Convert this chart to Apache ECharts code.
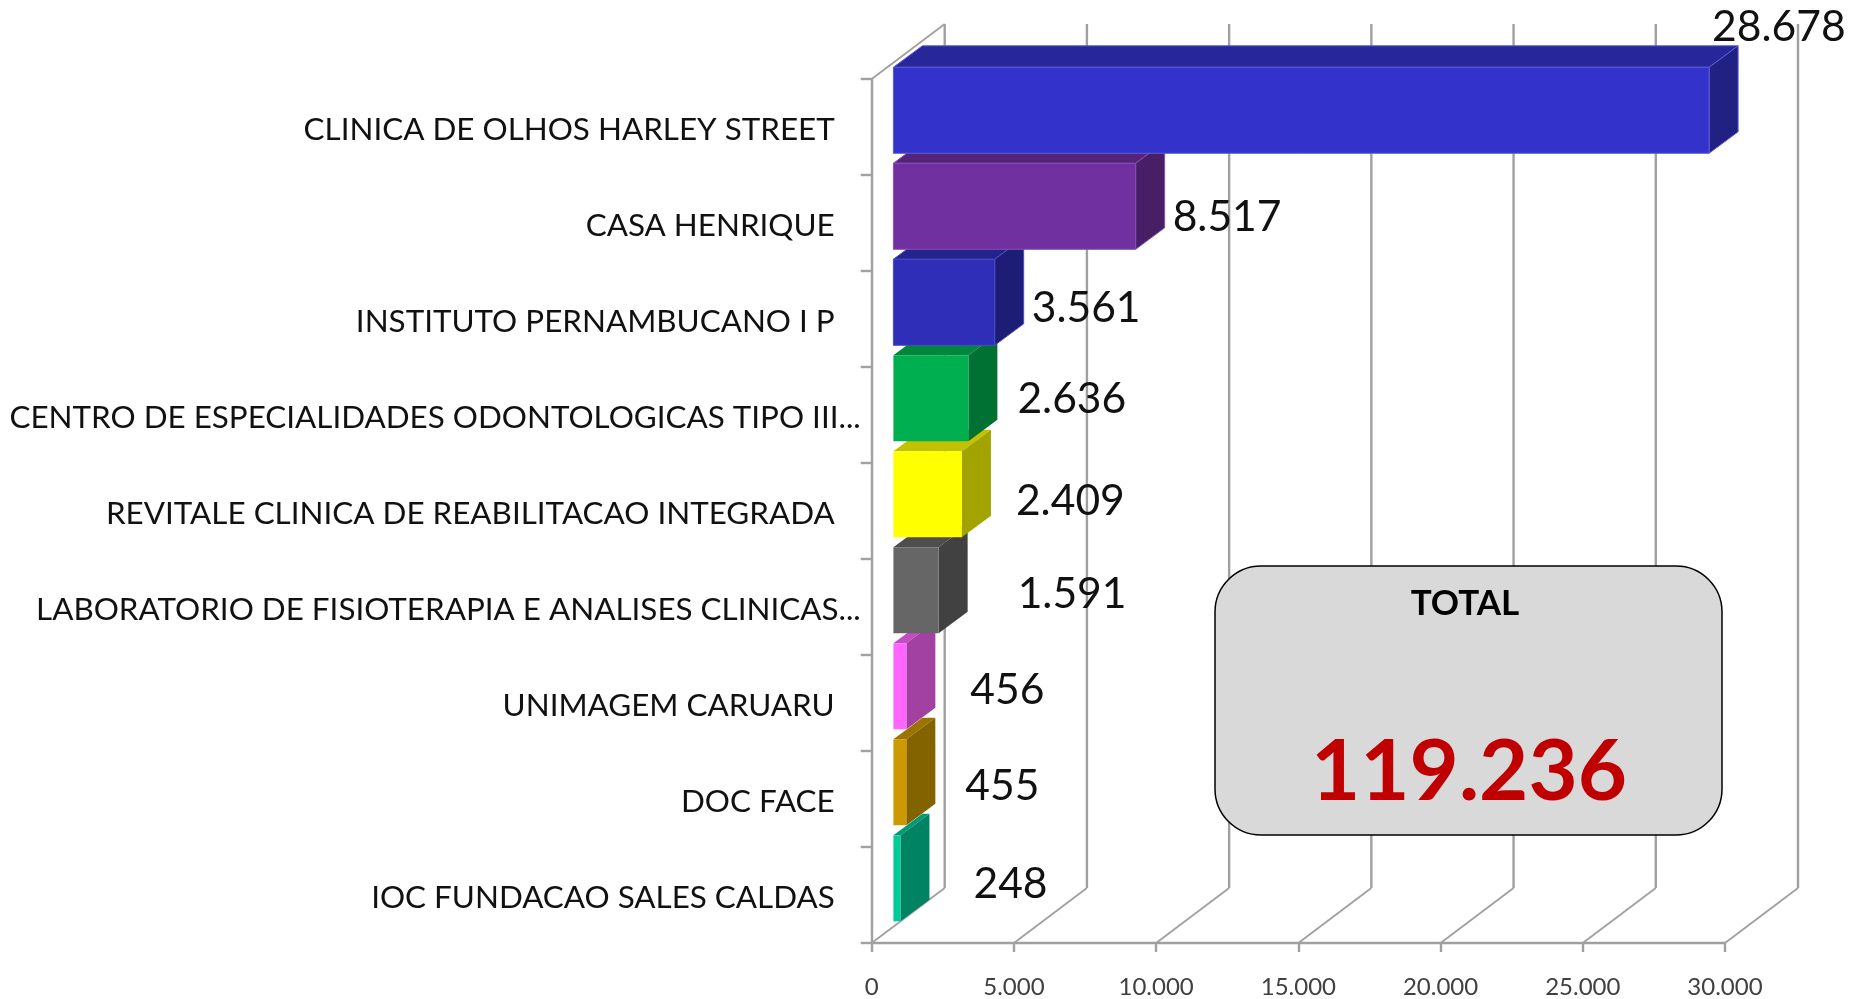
<!DOCTYPE html>
<html>
<head>
<meta charset="utf-8">
<style>html,body{margin:0;padding:0;background:#fff}#c{width:1850px;height:999px}</style>
<script src="https://cdn.jsdelivr.net/npm/echarts@6/dist/echarts.min.js"></script>
</head>
<body>
<div id="c"></div>
<script>
const categories = [
  'CLINICA DE OLHOS HARLEY STREET',
  'CASA HENRIQUE',
  'INSTITUTO PERNAMBUCANO I P',
  'CENTRO DE ESPECIALIDADES ODONTOLOGICAS TIPO III...',
  'REVITALE CLINICA DE REABILITACAO INTEGRADA',
  'LABORATORIO DE FISIOTERAPIA E ANALISES CLINICAS...',
  'UNIMAGEM CARUARU',
  'DOC FACE',
  'IOC FUNDACAO SALES CALDAS'
];
const values = [28678, 8517, 3561, 2636, 2409, 1591, 456, 455, 248];
const frontColors = ['#3333CC','#7030A0','#2E2EB8','#00B050','#FFFF00','#666666','#FF66FF','#CC9900','#00CC99'];
const edgeColors = ['#5B5BD6','#8450AE','#4A4AC4',null,null,null,null,null,null];
const labelShiftX = [-26, 8, 8, 20, 25, 50, 35, 30, 44];
const labelShiftY = [-83, 11, 6, 1, 7, 4, 4, 4, 6];
const valueTicks = [0, 5000, 10000, 15000, 20000, 25000, 30000];
const totalLabel = 'TOTAL';
const totalValue = '119.236';

const GRAY = '#A0A0A0';
const FONT = 'Lato';
const WALL_DX = 73, WALL_DY = -55;      // depth of the 3D box
const BAR_DX = 21.7, BAR_DY = -16.7;    // bars float inside the box
const SIDE_DX = 29, SIDE_DY = -21.5;    // thickness of a bar
const BAR_H = 86;
const TOP_SHADE = 0.76, SIDE_SHADE = 0.64;
const fmt = v => String(v).replace(/\B(?=(\d{3})+$)/g, '.');
const shade = (hex, k) => '#' + [1, 3, 5].map(p =>
  Math.round(parseInt(hex.substr(p, 2), 16) * k).toString(16).padStart(2, '0')).join('');

function renderWalls(params, api) {
  const v = api.value(0);
  const n = categories.length;
  const half = api.size([0, 1])[1] / 2;
  const front = api.coord([v, n - 1]);
  const top0 = api.coord([0, 0]);
  const bottom = front[1] + half;
  const top = top0[1] - half;
  const bx = front[0] + WALL_DX;
  const children = [
    { type: 'line',
      shape: { x1: front[0], y1: bottom, x2: bx, y2: bottom + WALL_DY },
      style: { stroke: GRAY, lineWidth: 1.8 } },
    { type: 'line',
      shape: { x1: bx, y1: bottom + WALL_DY, x2: bx, y2: top + WALL_DY },
      style: { stroke: GRAY, lineWidth: 2.4 } }
  ];
  if (v === 0) {
    children.push({
      type: 'line',
      shape: { x1: front[0], y1: top, x2: bx, y2: top + WALL_DY },
      style: { stroke: GRAY, lineWidth: 1.8 }
    });
  }
  return { type: 'group', children };
}

function renderBar(params, api) {
  const i = params.dataIndex;
  const base = api.coord([0, i]);
  const end = api.coord([api.value(0), i]);
  const x0 = base[0] + BAR_DX;
  const x1 = x0 + (end[0] - base[0]);
  const yc = end[1] + BAR_DY;
  const y0 = yc - BAR_H / 2, y1 = yc + BAR_H / 2;
  const c = frontColors[i];
  const z = (categories.length - i) * 2;
  const edge = edgeColors[i] ? { stroke: edgeColors[i], lineWidth: 1 } : {};
  return {
    type: 'group',
    children: [
      { type: 'polygon', z2: z,
        shape: { points: [[x0, y0], [x1, y0], [x1 + SIDE_DX, y0 + SIDE_DY], [x0 + SIDE_DX, y0 + SIDE_DY]] },
        style: { fill: shade(c, TOP_SHADE), ...edge } },
      { type: 'polygon', z2: z,
        shape: { points: [[x1, y0], [x1 + SIDE_DX, y0 + SIDE_DY], [x1 + SIDE_DX, y1 + SIDE_DY], [x1, y1]] },
        style: { fill: shade(c, SIDE_SHADE), ...edge } },
      { type: 'rect', z2: z + 1,
        shape: { x: x0, y: y0, width: x1 - x0, height: BAR_H },
        style: { fill: c, ...edge } },
      { type: 'text', z2: 100,
        x: x1 + SIDE_DX + labelShiftX[i],
        y: yc + labelShiftY[i],
        style: { text: fmt(api.value(0)), fontFamily: FONT, fontSize: 42.6, fill: '#111',
                 align: 'left', verticalAlign: 'middle' } }
    ]
  };
}

const chart = echarts.init(document.getElementById('c'));
chart.setOption({
  animation: false,
  backgroundColor: '#fff',
  grid: { left: 871.7, top: 79, right: 125, bottom: 56, containLabel: false },
  xAxis: {
    type: 'value', min: 0, max: 30000, interval: 5000,
    axisLine: { show: true, lineStyle: { color: GRAY, width: 2.4 } },
    axisTick: { show: true, length: 9, lineStyle: { color: GRAY, width: 2.4 } },
    splitLine: { show: false },
    axisLabel: { formatter: fmt, fontFamily: FONT, fontSize: 24, color: '#404040', margin: 32 }
  },
  yAxis: {
    type: 'category', inverse: true, data: categories,
    axisLine: { show: true, lineStyle: { color: GRAY, width: 2.4 } },
    axisTick: { show: true, length: 11, lineStyle: { color: GRAY, width: 2.4 } },
    axisLabel: {
      interval: 0, margin: 11, color: '#111',
      formatter: t => t.endsWith('...') ? '{e|' + t + '}' : '{p|' + t + '}',
      rich: {
        e: { fontFamily: FONT, fontSize: 31.4, padding: [6, 0, 0, 0] },
        p: { fontFamily: FONT, fontSize: 31.4, padding: [6, 26, 0, 0] }
      }
    }
  },
  series: [
    { type: 'custom', z: 1, silent: true, renderItem: renderWalls,
      encode: { x: 0 }, data: valueTicks.map(v => [v]) },
    { type: 'custom', z: 2, silent: true, renderItem: renderBar,
      encode: { x: 0, y: 1 }, clip: false, data: values.map((v, i) => [v, i]) }
  ],
  graphic: [
    { type: 'rect', z: 50,
      shape: { x: 1215, y: 566, width: 507, height: 269, r: 46 },
      style: { fill: '#D9D9D9', stroke: '#000', lineWidth: 1.5 } },
    { type: 'text', z: 51, x: 1465, y: 604,
      style: { text: totalLabel, fontFamily: FONT, fontWeight: 'bold', fontSize: 35, fill: '#000',
               align: 'center', verticalAlign: 'middle' } },
    { type: 'text', z: 51, x: 1469, y: 773,
      style: { text: totalValue, fontFamily: FONT, fontWeight: 'bold', fontSize: 85, fill: '#C00000',
               align: 'center', verticalAlign: 'middle' } }
  ]
});
</script>
</body>
</html>
